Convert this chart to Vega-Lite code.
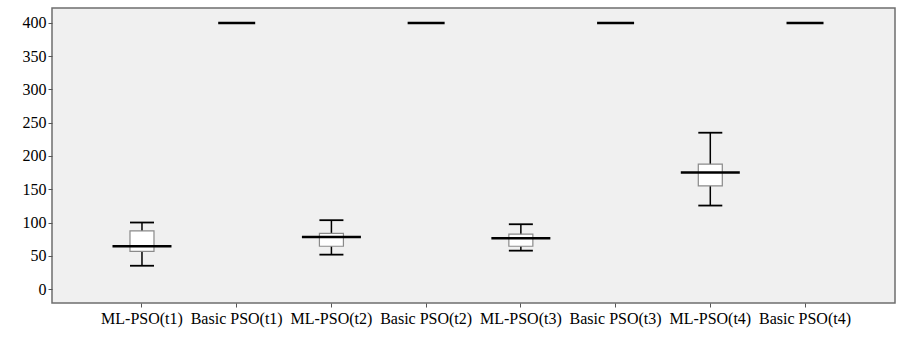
{
  "$schema": "https://vega.github.io/schema/vega-lite/v6.json",
  "width": 843,
  "height": 295,
  "autosize": {"type": "none"},
  "padding": {"left": 52, "top": 8, "right": 9, "bottom": 35},
  "background": "white",
  "config": {
    "view": {"fill": "#f0f0f0", "stroke": "#6e6e6e", "strokeWidth": 1.5},
    "font": "Times New Roman",
    "axis": {"labelFont": "Times New Roman", "labelFontSize": 16, "labelColor": "#000000", "tickColor": "#555555", "tickSize": 4, "grid": false, "domain": false, "title": null},
    "axisY": {"values": [0, 50, 100, 150, 200, 250, 300, 350, 400], "labelPadding": 2, "labelOverlap": false},
    "tick": {"opacity": 1},
    "bar": {"opacity": 1}
  },
  "data": {
    "values": [
      {"group": "ML-PSO(t1)", "kind": "ML", "lo": 35, "q1": 56.5, "median": 64.3, "q3": 87.3, "hi": 100},
      {"group": "Basic PSO(t1)", "kind": "Basic", "lo": 400, "q1": 400, "median": 400, "q3": 400, "hi": 400},
      {"group": "ML-PSO(t2)", "kind": "ML", "lo": 51.7, "q1": 64.3, "median": 78.3, "q3": 83.8, "hi": 103.5},
      {"group": "Basic PSO(t2)", "kind": "Basic", "lo": 400, "q1": 400, "median": 400, "q3": 400, "hi": 400},
      {"group": "ML-PSO(t3)", "kind": "ML", "lo": 57.7, "q1": 64.3, "median": 76.4, "q3": 82.4, "hi": 97.4},
      {"group": "Basic PSO(t3)", "kind": "Basic", "lo": 400, "q1": 400, "median": 400, "q3": 400, "hi": 400},
      {"group": "ML-PSO(t4)", "kind": "ML", "lo": 125.5, "q1": 155, "median": 175.2, "q3": 187.8, "hi": 235},
      {"group": "Basic PSO(t4)", "kind": "Basic", "lo": 400, "q1": 400, "median": 400, "q3": 400, "hi": 400}
    ]
  },
  "encoding": {
    "x": {
      "field": "group", "type": "nominal",
      "scale": {"type": "band", "paddingInner": 0, "paddingOuter": 0.45,
                "domain": ["ML-PSO(t1)", "Basic PSO(t1)", "ML-PSO(t2)", "Basic PSO(t2)", "ML-PSO(t3)", "Basic PSO(t3)", "ML-PSO(t4)", "Basic PSO(t4)"]},
      "axis": {"labelAngle": 0, "labelPadding": 3, "ticks": true, "tickBand": "center"}
    }
  },
  "layer": [
    {
      "transform": [{"filter": "datum.kind === 'ML'"}],
      "mark": {"type": "rule", "color": "#000000", "strokeWidth": 1.5},
      "encoding": {
        "y": {"field": "lo", "type": "quantitative", "scale": {"domain": [-21, 422.5], "nice": false, "zero": false}},
        "y2": {"field": "hi"}
      }
    },
    {
      "transform": [{"filter": "datum.kind === 'ML'"}],
      "mark": {"type": "tick", "color": "#000000", "thickness": 1.8, "size": 24},
      "encoding": {"y": {"field": "lo", "type": "quantitative"}}
    },
    {
      "transform": [{"filter": "datum.kind === 'ML'"}],
      "mark": {"type": "tick", "color": "#000000", "thickness": 1.8, "size": 24},
      "encoding": {"y": {"field": "hi", "type": "quantitative"}}
    },
    {
      "transform": [{"filter": "datum.kind === 'ML'"}],
      "mark": {"type": "bar", "fill": "#ffffff", "stroke": "#8a8a8a", "strokeWidth": 1.2, "width": 24},
      "encoding": {"y": {"field": "q1", "type": "quantitative"}, "y2": {"field": "q3"}}
    },
    {
      "transform": [{"filter": "datum.kind === 'ML'"}],
      "mark": {"type": "tick", "color": "#000000", "thickness": 2.5, "size": 59},
      "encoding": {"y": {"field": "median", "type": "quantitative"}}
    },
    {
      "transform": [{"filter": "datum.kind === 'Basic'"}],
      "mark": {"type": "tick", "color": "#000000", "thickness": 2.5, "size": 37},
      "encoding": {"y": {"field": "median", "type": "quantitative"}}
    }
  ]
}
